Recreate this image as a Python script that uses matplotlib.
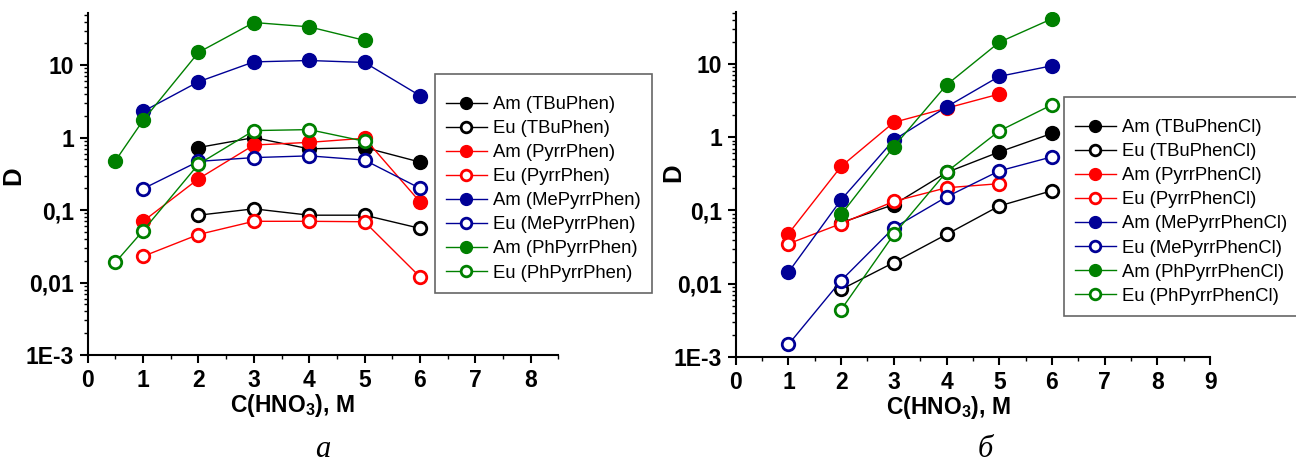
import matplotlib
matplotlib.use("Agg")
import matplotlib.pyplot as plt
from matplotlib.ticker import FixedLocator, FixedFormatter, LogLocator, MultipleLocator, NullFormatter

plt.rcParams['font.family'] = ['Liberation Sans', 'DejaVu Sans']
plt.rcParams['mathtext.fontset'] = 'custom'
plt.rcParams['mathtext.bf'] = 'Liberation Sans:bold'
plt.rcParams['mathtext.rm'] = 'Liberation Sans'

# panel a: substituted phenanthrolines
x_a = [0.5, 1, 2, 3, 4, 5, 6]
am_tbuphen = [None, None, 0.73, 1.0, 0.70, 0.73, 0.46]
eu_tbuphen = [None, None, 0.085, 0.104, 0.085, 0.085, 0.056]
am_pyrrphen = [None, 0.07, 0.27, 0.79, 0.86, 0.98, 0.13]
eu_pyrrphen = [None, 0.023, 0.046, 0.070, 0.070, 0.069, 0.012]
am_mepyrrphen = [None, 2.3, 5.9, 11.1, 11.6, 10.9, 3.8]
eu_mepyrrphen = [None, 0.197, 0.47, 0.53, 0.56, 0.49, 0.20]
am_phpyrrphen = [0.48, 1.73, 15.0, 38.8, 33.8, 22.0, None]
eu_phpyrrphen = [0.019, 0.052, 0.43, 1.25, 1.29, 0.89, None]

# panel b: chlorinated analogues
x_b = [1, 2, 3, 4, 5, 6]
am_tbuphencl = [None, 0.068, 0.12, 0.33, 0.63, 1.13]
eu_tbuphencl = [None, 0.0083, 0.0194, 0.047, 0.115, 0.186]
am_pyrrphencl = [0.048, 0.40, 1.6, 2.5, 3.9, None]
eu_pyrrphencl = [0.035, 0.066, 0.133, 0.204, 0.232, None]
am_mepyrrphencl = [0.0143, 0.14, 0.92, 2.6, 6.8, 9.5]
eu_mepyrrphencl = [0.00147, 0.011, 0.058, 0.153, 0.347, 0.54]
am_phpyrrphencl = [None, 0.088, 0.745, 5.2, 19.9, 41.7]
eu_phpyrrphencl = [None, 0.0044, 0.047, 0.336, 1.22, 2.78]

colors = ['black', '#ff0000', '#000096', '#008000']
ligands_a = ['TBuPhen', 'PyrrPhen', 'MePyrrPhen', 'PhPyrrPhen']
ligands_b = ['TBuPhenCl', 'PyrrPhenCl', 'MePyrrPhenCl', 'PhPyrrPhenCl']
series_a = [(am_tbuphen, eu_tbuphen), (am_pyrrphen, eu_pyrrphen),
            (am_mepyrrphen, eu_mepyrrphen), (am_phpyrrphen, eu_phpyrrphen)]
series_b = [(am_tbuphencl, eu_tbuphencl), (am_pyrrphencl, eu_pyrrphencl),
            (am_mepyrrphencl, eu_mepyrrphencl), (am_phpyrrphencl, eu_phpyrrphencl)]

ytick_vals = [1e-3, 1e-2, 1e-1, 1, 10]
ytick_labels = ['1E-3', '0,01', '0,1', '1', '10']


def clean(xs, ys):
    pts = [(x, y) for x, y in zip(xs, ys) if y is not None]
    return [p[0] for p in pts], [p[1] for p in pts]


def draw_panel(ax, xs, series, ligands, xmax):
    for (am, eu), lig, c in zip(series, ligands, colors):
        px, py = clean(xs, am)
        ax.plot(px, py, '-o', color=c, lw=1, ms=10, mfc=c, mec=c,
                label='Am (%s)' % lig)
        px, py = clean(xs, eu)
        ax.plot(px, py, '-o', color=c, lw=1, ms=9, mfc='white', mec=c,
                mew=2, label='Eu (%s)' % lig)
    ax.set_yscale('log')
    ax.set_ylim(1e-3, 52)
    ax.set_xlim(0, xmax)
    ax.yaxis.set_major_locator(FixedLocator(ytick_vals))
    ax.yaxis.set_major_formatter(FixedFormatter(ytick_labels))
    ax.yaxis.set_minor_locator(LogLocator(base=10, subs=range(2, 10), numticks=20))
    ax.yaxis.set_minor_formatter(NullFormatter())
    ax.xaxis.set_major_locator(MultipleLocator(1))
    ax.xaxis.set_minor_locator(MultipleLocator(0.5))
    for s in ['top', 'right']:
        ax.spines[s].set_visible(False)
    for s in ['left', 'bottom']:
        ax.spines[s].set_linewidth(1.5)
    ax.tick_params(which='major', direction='out', length=6, width=1.5,
                   labelsize=16.5, pad=4)
    ax.tick_params(which='minor', direction='out', length=3, width=1)
    for lab in ax.get_xticklabels() + ax.get_yticklabels():
        lab.set_fontweight('bold')
    ax.set_ylabel('D', fontsize=18.5, fontweight='bold')
    ax.set_xlabel(r'C(HNO$_\mathbf{3}$), M', fontsize=16.5, fontweight='bold',
                  labelpad=0)


fig = plt.figure(figsize=(12.96, 4.63), dpi=100)
ax1 = fig.add_axes([0.0677, 0.2333, 0.3631, 0.738])
ax2 = fig.add_axes([0.5677, 0.2296, 0.366, 0.745])

draw_panel(ax1, x_a, series_a, ligands_a, 8.5)
draw_panel(ax2, x_b, series_b, ligands_b, 9)

ax1.yaxis.set_label_coords(-0.133, 0.524)
ax2.yaxis.set_label_coords(-0.107, 0.534)
ax1.xaxis.label.set_x(0.435)
ax2.xaxis.label.set_x(0.448)

leg_kw = dict(fontsize=13.3, frameon=True, fancybox=False, handlelength=2.2,
              labelspacing=0.38, borderpad=0.6, handletextpad=0.36,
              markerscale=0.85, borderaxespad=0, title=' ', title_fontsize=2)
l1 = ax1.legend(loc='upper left', bbox_to_anchor=(0.738, 0.8215), **leg_kw)
l2 = ax2.legend(loc='upper left', bbox_to_anchor=(0.692, 0.752), **leg_kw)
for lg in (l1, l2):
    lg.get_frame().set_edgecolor('#404040')
    lg.get_frame().set_linewidth(1.2)

fig.text(0.249, 0.014, 'а', fontsize=22, style='italic',
         family='Liberation Serif', ha='center', va='baseline')
fig.text(0.760, 0.014, 'б', fontsize=22, style='italic',
         family='Liberation Serif', ha='center', va='baseline')

fig.savefig('out.png', dpi=100)
